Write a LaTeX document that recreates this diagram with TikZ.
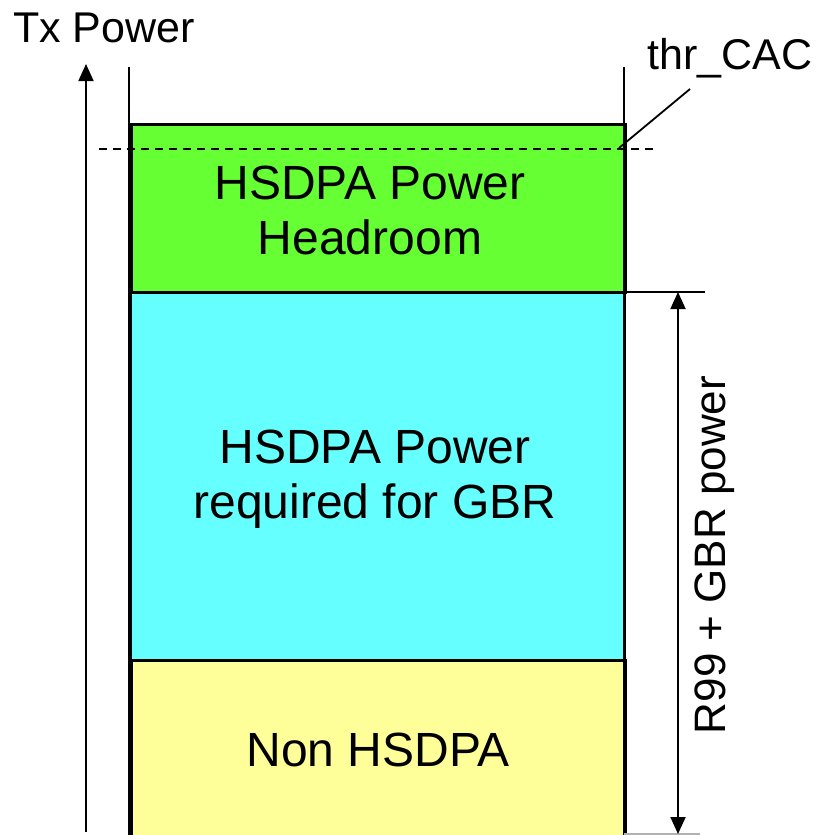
\documentclass[tikz,border=0pt]{standalone}
\usepackage{fontspec}
\setmainfont{Liberation Sans}
\usetikzlibrary{arrows.meta}
\begin{document}
\begin{tikzpicture}[x=1pt,y=-1pt,
  band/.style={draw=black,line width=2.5pt,minimum width=494pt,inner sep=0pt,anchor=north west},
  big/.style={font=\fontsize{48}{55}\selectfont,align=center,inner sep=0pt},
  lbl/.style={font=\fontsize{43}{50}\selectfont,inner sep=0pt},
  ax/.style={line width=1.8pt},
  tip/.style={-{Triangle[length=17pt,width=15pt]}}]
\useasboundingbox (0,0) rectangle (816,835);
\node[band,fill={rgb,255:red,102;green,255;blue,51},minimum height=168pt] (g) at (130,123) {};
\node[band,fill={rgb,255:red,102;green,255;blue,255},minimum height=368pt] (c) at (129,291) {};
\node[band,fill={rgb,255:red,255;green,255;blue,153},minimum height=190pt] (y) at (130,659) {};
\node[big] (gt) at (370,210) {HSDPA Power\\Headroom};
\node[big] (ct) at (375,479) {HSDPA Power\\required for GBR};
\node[big] (yt) at (378,750) {Non HSDPA};
% vertical side lines
\coordinate (lt) at (129,67); \coordinate (lb) at (129,835);
\coordinate (rt) at (624,67); \coordinate (rb) at (624,835);
\draw[ax] (lt) -- (lb);
\draw[ax] (rt) -- (rb);
% axis
\coordinate (a0) at (86,832); \coordinate (a1) at (86,64);
\draw[ax,tip] (a0) -- (a1);
\node[lbl,anchor=base] (tx) at (104,42) {Tx Power};
% threshold
\coordinate (d0) at (99,149); \coordinate (d1) at (655,149);
\draw[line width=1.3pt,dash pattern=on 8pt off 6pt] (d0) -- (d1);
\node[lbl,anchor=base] (thr) at (730,69) {thr\_CAC};
\coordinate (p0) at (690,89); \coordinate (p1) at (619,148);
\draw[line width=1.8pt] (p0) -- (p1);
% dimension
\coordinate (h0) at (624,292); \coordinate (h1) at (705,292);
\coordinate (b0) at (624,834); \coordinate (b1) at (700,834);
\draw[line width=1.5pt] (h0) -- (h1);
\draw[line width=1.5pt,gray!60] (b0) -- (b1);
\coordinate (m0) at (678,555); \coordinate (m1) at (678,292); \coordinate (m2) at (678,834);
\draw[ax,tip] (m0) -- (m1);
\draw[ax,tip] (m0) -- (m2);
\node[lbl,rotate=90,anchor=base,font=\fontsize{44}{50}\selectfont] (r99) at (725,555) {R99 + GBR power};
\end{tikzpicture}
\end{document}
